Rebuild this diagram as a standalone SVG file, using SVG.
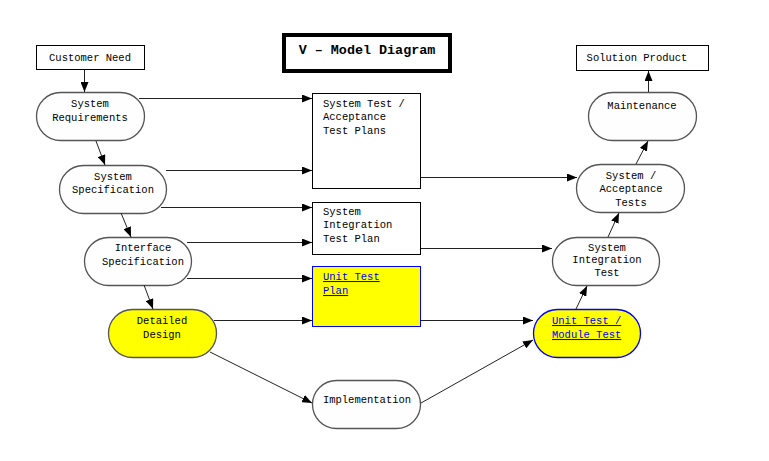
<svg xmlns="http://www.w3.org/2000/svg" width="769" height="461" viewBox="0 0 769 461">
<defs>
<marker id="ah" viewBox="0 0 10 8" refX="10" refY="4" markerWidth="10" markerHeight="8" markerUnits="userSpaceOnUse" orient="auto">
<path d="M0,0 L10,4 L0,8 Z" fill="#000"/>
</marker>
</defs>
<style>
text{font-family:"Liberation Mono","DejaVu Sans Mono",monospace;font-size:10.5px;fill:#000}
.c{text-anchor:middle}
.box{fill:#fff;stroke:#000;stroke-width:1}
.rnd{fill:#fefefe;stroke:#555;stroke-width:1.3}
.yel{fill:#ffff00}
.blue{stroke:#0000ff}
.link{fill:#0000ee;text-decoration:underline}
.conn line{stroke:#222;stroke-width:1;marker-end:url(#ah)}
</style>
<rect width="769" height="461" fill="#fff"/>
<g id="title">
<rect x="284" y="35" width="166" height="36" fill="#fff" stroke="#000" stroke-width="4"/>
<text x="367" y="54" class="c" style="font-weight:bold;font-size:13.4px">V – Model Diagram</text>
</g>
<g id="customer-need">
<rect class="box" x="36.5" y="45.5" width="108" height="24"/>
<text x="90" y="61" class="c">Customer Need</text>
</g>
<g id="system-requirements">
<rect class="rnd" x="36.5" y="92.5" width="108" height="48" rx="24"/>
<text x="90" y="107" class="c">System</text>
<text x="90" y="121" class="c">Requirements</text>
</g>
<g id="system-specification">
<rect class="rnd" x="59.5" y="165.5" width="107" height="48" rx="24"/>
<text x="113" y="180" class="c">System</text>
<text x="113" y="193" class="c">Specification</text>
</g>
<g id="interface-specification">
<rect class="rnd" x="84.5" y="237.5" width="107" height="48" rx="24"/>
<text x="143" y="251" class="c">Interface</text>
<text x="143" y="265" class="c">Specification</text>
</g>
<g id="detailed-design">
<rect class="rnd yel" x="108.5" y="309.5" width="108" height="48" rx="24"/>
<text x="162" y="324" class="c">Detailed</text>
<text x="162" y="338" class="c">Design</text>
</g>
<g id="implementation">
<rect class="rnd" x="312.5" y="380.5" width="108" height="48" rx="24"/>
<text x="367" y="403" class="c">Implementation</text>
</g>
<g id="system-test-plans">
<rect class="box" x="312.5" y="93.5" width="108" height="95"/>
<text x="323" y="107">System Test /</text>
<text x="323" y="120">Acceptance</text>
<text x="323" y="134">Test Plans</text>
</g>
<g id="system-integration-test-plan">
<rect class="box" x="312.5" y="202.5" width="108" height="52"/>
<text x="323" y="215">System</text>
<text x="323" y="228">Integration</text>
<text x="323" y="242">Test Plan</text>
</g>
<g id="unit-test-plan">
<rect class="yel blue" x="312.5" y="266.5" width="108" height="60" stroke-width="1"/>
<text x="323" y="280" class="link">Unit Test</text>
<text x="323" y="294" class="link">Plan</text>
</g>
<g id="unit-module-test">
<rect class="rnd yel blue" x="533.5" y="309.5" width="107" height="48" rx="24"/>
<text x="552" y="324" class="link">Unit Test /</text>
<text x="552" y="338" class="link">Module Test</text>
</g>
<g id="system-integration-test">
<rect class="rnd" x="552.5" y="237.5" width="107" height="48" rx="24"/>
<text x="607" y="251" class="c">System</text>
<text x="607" y="263" class="c">Integration</text>
<text x="607" y="276" class="c">Test</text>
</g>
<g id="system-acceptance-tests">
<rect class="rnd" x="576.5" y="164.5" width="108" height="48" rx="24"/>
<text x="631" y="179" class="c">System /</text>
<text x="631" y="192" class="c">Acceptance</text>
<text x="631" y="206" class="c">Tests</text>
</g>
<g id="maintenance">
<rect class="rnd" x="588.5" y="92.5" width="108" height="48" rx="24"/>
<text x="642" y="109" class="c">Maintenance</text>
</g>
<g id="solution-product">
<rect class="box" x="576.5" y="45.5" width="132" height="25"/>
<text x="637" y="61" class="c">Solution Product</text>
</g>
<g id="connectors" class="conn">
<line x1="84.5" y1="70" x2="84.5" y2="92"/>
<line x1="96" y1="141" x2="105" y2="165"/>
<line x1="121" y1="213" x2="131" y2="237"/>
<line x1="144" y1="285" x2="153" y2="309"/>
<line x1="139" y1="98.5" x2="312" y2="98.5"/>
<line x1="166" y1="170.5" x2="312" y2="170.5"/>
<line x1="161" y1="207.5" x2="312" y2="207.5"/>
<line x1="187" y1="242.5" x2="312" y2="242.5"/>
<line x1="187" y1="278.5" x2="312" y2="278.5"/>
<line x1="214" y1="320.5" x2="312" y2="320.5"/>
<line x1="210" y1="352" x2="312" y2="403"/>
<line x1="421" y1="403" x2="533" y2="340"/>
<line x1="421" y1="320.5" x2="533" y2="320.5"/>
<line x1="421" y1="248.5" x2="552" y2="248.5"/>
<line x1="421" y1="177.5" x2="577" y2="177.5"/>
<line x1="576" y1="309" x2="587" y2="286"/>
<line x1="608" y1="237" x2="619" y2="213"/>
<line x1="636" y1="164" x2="648" y2="141"/>
<line x1="648.5" y1="92" x2="648.5" y2="71"/>
</g>
</svg>
